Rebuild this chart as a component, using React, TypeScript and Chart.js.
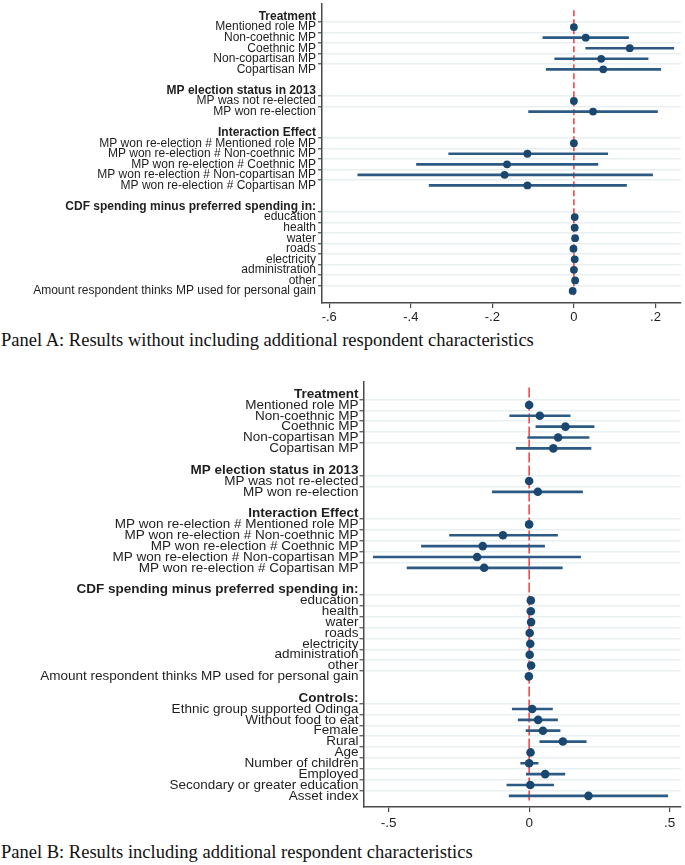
import React, { useEffect, useRef } from "react";
import { Chart, registerables } from "chart.js";

Chart.register(...registerables);

// ---------- Labels ----------
const HEADERS_A = [
  "Treatment",
  "MP election status in 2013",
  "Interaction Effect",
  "CDF spending minus preferred spending in:",
];
const HEADERS_B = [...HEADERS_A, "Controls:"];

const TREATMENT = [
  "Mentioned role MP",
  "Non-coethnic MP",
  "Coethnic MP",
  "Non-copartisan MP",
  "Copartisan MP",
];
const ELECTION = ["MP was not re-elected", "MP won re-election"];
const INTERACTION = [
  "MP won re-election # Mentioned role MP",
  "MP won re-election # Non-coethnic MP",
  "MP won re-election # Coethnic MP",
  "MP won re-election # Non-copartisan MP",
  "MP won re-election # Copartisan MP",
];
const CDF = [
  "education",
  "health",
  "water",
  "roads",
  "electricity",
  "administration",
  "other",
  "Amount respondent thinks MP used for personal gain",
];
const CONTROLS = [
  "Ethnic group supported Odinga",
  "Without food to eat",
  "Female",
  "Rural",
  "Age",
  "Number of children",
  "Employed",
  "Secondary or greater education",
  "Asset index",
];

// ---------- Panel A values (item order: treatment, election, interaction, CDF) ----------
const A_COEF = [0, 0.029, 0.137, 0.067, 0.072, 0, 0.047, 0, -0.114, -0.164, -0.17, -0.114, 0.002, 0.002, 0.003, -0.001, 0.002, 0.0, 0.003, -0.003];
const A_LO = [0, -0.076, 0.029, -0.047, -0.068, 0, -0.111, 0, -0.307, -0.386, -0.53, -0.355, -0.004, -0.004, -0.003, -0.007, -0.004, -0.006, -0.003, -0.008];
const A_HI = [0, 0.134, 0.245, 0.182, 0.213, 0, 0.205, 0, 0.083, 0.059, 0.193, 0.129, 0.008, 0.008, 0.009, 0.005, 0.008, 0.006, 0.009, 0.002];

// ---------- Panel B values (plus controls) ----------
const B_COEF = [0, 0.038, 0.129, 0.103, 0.086, 0, 0.031, 0, -0.093, -0.165, -0.185, -0.16, 0.006, 0.006, 0.007, 0.002, 0.004, 0.002, 0.007, -0.001, 0.011, 0.032, 0.049, 0.12, 0.005, 0.0, 0.057, 0.004, 0.211];
const B_LO = [0, -0.069, 0.024, -0.005, -0.046, 0, -0.131, 0, -0.283, -0.383, -0.554, -0.434, 0.0, 0.0, 0.001, -0.004, -0.002, -0.004, 0.001, -0.007, -0.06, -0.039, -0.011, 0.038, -0.001, -0.03, -0.01, -0.079, -0.071];
const B_HI = [0, 0.146, 0.231, 0.213, 0.22, 0, 0.19, 0, 0.101, 0.055, 0.183, 0.118, 0.012, 0.012, 0.013, 0.008, 0.01, 0.008, 0.013, 0.005, 0.083, 0.101, 0.11, 0.203, 0.011, 0.032, 0.127, 0.087, 0.493];

// ---------- Axis ticks ----------
const X_TICKS_A = [-0.6, -0.4, -0.2, 0, 0.2];
const X_TICK_LABELS_A = ["-.6", "-.4", "-.2", "0", ".2"];
const X_TICKS_B = [-0.5, 0, 0.5];
const X_TICK_LABELS_B = ["-.5", "0", ".5"];
const REF_X = 0;

const CAPTION_A = "Panel A: Results without including additional respondent characteristics";
const CAPTION_B = "Panel B: Results including additional respondent characteristics";

// ---------- Styles ----------
const NAVY = "#1a476f";
const BAR = "#2d5a84";
const RED = "#ee2020";
const AXIS = "#4a4a4a";
const GRID = "#e8f0f2";
const TXT = "#1e1e1e";
const SANS = "'Liberation Sans', Arial, sans-serif";
const SERIF = "'Liberation Serif', 'Times New Roman', serif";

type Row = { label: string; kind: "header" | "item" | "blank" };

function buildRows(headers: string[], groups: string[][]): Row[] {
  const rows: Row[] = [];
  headers.forEach((h, gi) => {
    if (gi > 0) rows.push({ label: "", kind: "blank" });
    rows.push({ label: h, kind: "header" });
    groups[gi].forEach((l) => rows.push({ label: l, kind: "item" }));
  });
  return rows;
}

type PanelProps = {
  rows: Row[];
  coef: number[];
  lo: number[];
  hi: number[];
  xMin: number;
  xMax: number;
  xTicks: number[];
  xTickLabels: string[];
  height: number;
  yAxisW: number;
  xAxisH: number;
  yTop: number;
  yBottomPad: number;
  yFont: number;
  xFont: number;
  padRight: number;
  pointR: number;
  dash: number[];
  xPad: number;
  yPad: number;
};

function Panel(p: PanelProps) {
  const ref = useRef<HTMLCanvasElement | null>(null);
  useEffect(() => {
    if (!ref.current) return;
    const rows = p.rows;
    const itemRows: number[] = [];
    const tickRows: number[] = [];
    rows.forEach((r, i) => {
      if (r.kind === "item") itemRows.push(i);
      if (r.kind !== "blank") tickRows.push(i);
    });
    const yMin = p.yTop;
    const yMax = rows.length - 1 + p.yBottomPad;
    const kindOf = (v: any) => (v == null ? undefined : rows[Math.round(v)]?.kind);

    const chart = new Chart(ref.current, {
      type: "scatter",
      data: {
        datasets: [
          {
            type: "scatter",
            data: itemRows.map((r, k) => ({ x: p.coef[k], y: r })),
            pointRadius: p.pointR,
            pointBackgroundColor: NAVY,
            pointBorderWidth: 0,
            order: 0,
          } as any,
          {
            type: "bar",
            indexAxis: "y",
            data: itemRows.map((r, k) => ({ x: [p.lo[k], p.hi[k]], y: r })),
            backgroundColor: BAR,
            borderWidth: 0,
            barThickness: 2,
            order: 1,
          } as any,
          {
            type: "line",
            data: [
              { x: REF_X, y: yMin },
              { x: REF_X, y: yMax },
            ],
            borderColor: RED,
            borderWidth: 1.3,
            borderDash: p.dash,
            pointRadius: 0,
            fill: false,
            order: 2,
          } as any,
        ],
      },
      options: {
        animation: false,
        responsive: false,
        events: [],
        layout: { padding: { left: 0, top: 0, right: p.padRight, bottom: 0 } },
        plugins: { legend: { display: false }, tooltip: { enabled: false } },
        scales: {
          x: {
            type: "linear",
            min: p.xMin,
            max: p.xMax,
            afterBuildTicks: (s: any) => {
              s.ticks = p.xTicks.map((v) => ({ value: v }));
            },
            afterFit: (s: any) => {
              s.height = p.xAxisH;
              s.paddingLeft = 0;
              s.paddingRight = 0;
            },
            ticks: {
              autoSkip: false,
              maxRotation: 0,
              padding: p.xPad,
              color: TXT,
              font: { family: SANS, size: p.xFont },
              callback: (_v: any, i: number) => p.xTickLabels[i],
            },
            grid: {
              drawOnChartArea: false,
              drawTicks: true,
              tickLength: 5,
              color: AXIS,
              lineWidth: 1.2,
            },
            border: { display: true, color: AXIS, width: 1.5 },
          },
          y: {
            type: "linear",
            reverse: true,
            min: yMin,
            max: yMax,
            afterBuildTicks: (s: any) => {
              s.ticks = tickRows.map((v) => ({ value: v }));
            },
            afterFit: (s: any) => {
              s.width = p.yAxisW;
              s.paddingTop = 0;
              s.paddingBottom = 0;
            },
            ticks: {
              autoSkip: false,
              padding: p.yPad,
              color: TXT,
              font: (ctx: any) => ({
                family: SANS,
                size: p.yFont,
                weight: kindOf(ctx.tick?.value) === "header" ? "bold" : "normal",
              }),
              callback: (v: any) => rows[Math.round(v)]?.label ?? "",
            },
            grid: {
              drawTicks: true,
              tickLength: 4,
              lineWidth: 1.5,
              tickWidth: 1.2,
              color: (ctx: any) => (kindOf(ctx.tick?.value) === "item" ? GRID : "rgba(0,0,0,0)"),
              tickColor: (ctx: any) => (kindOf(ctx.tick?.value) === "item" ? AXIS : "rgba(0,0,0,0)"),
            },
            border: { display: true, color: AXIS, width: 1.5 },
          },
        },
      } as any,
    });
    return () => chart.destroy();
  }, []);
  return <canvas ref={ref} width={685} height={p.height} style={{ display: "block", width: 685, height: p.height }} />;
}

const ROWS_A = buildRows(HEADERS_A, [TREATMENT, ELECTION, INTERACTION, CDF]);
const ROWS_B = buildRows(HEADERS_B, [TREATMENT, ELECTION, INTERACTION, CDF, CONTROLS]);

const captionStyle: React.CSSProperties = {
  position: "absolute",
  left: 1,
  fontFamily: SERIF,
  fontSize: 18.5,
  lineHeight: "18.5px",
  color: "#111",
  whiteSpace: "nowrap",
};

export default function App() {
  return (
    <div style={{ position: "absolute", left: 0, top: 0, width: 685, height: 865, background: "#fff", overflow: "hidden" }}>
      <div style={{ position: "absolute", left: 0, top: 0 }}>
        <Panel
          rows={ROWS_A}
          coef={A_COEF}
          lo={A_LO}
          hi={A_HI}
          xMin={-0.6178}
          xMax={0.2627}
          xTicks={X_TICKS_A}
          xTickLabels={X_TICK_LABELS_A}
          height={330}
          yAxisW={322}
          xAxisH={27}
          yTop={-0.6}
          yBottomPad={0.55}
          yFont={12}
          xFont={13}
          padRight={0}
          pointR={3.9}
          dash={[6, 3]}
          xPad={2}
          yPad={2}
        />
      </div>
      <div style={{ ...captionStyle, top: 330.5 }}>{CAPTION_A}</div>
      <div style={{ position: "absolute", left: 0, top: 377 }}>
        <Panel
          rows={ROWS_B}
          coef={B_COEF}
          lo={B_LO}
          hi={B_HI}
          xMin={-0.589}
          xMax={0.539}
          xTicks={X_TICKS_B}
          xTickLabels={X_TICK_LABELS_B}
          height={460}
          yAxisW={363.5}
          xAxisH={30}
          yTop={-0.6}
          yBottomPad={0.45}
          yFont={13.5}
          xFont={13.5}
          padRight={2}
          pointR={4.3}
          dash={[10, 3]}
          xPad={3}
          yPad={1}
        />
      </div>
      <div style={{ ...captionStyle, top: 842.5 }}>{CAPTION_B}</div>
    </div>
  );
}
